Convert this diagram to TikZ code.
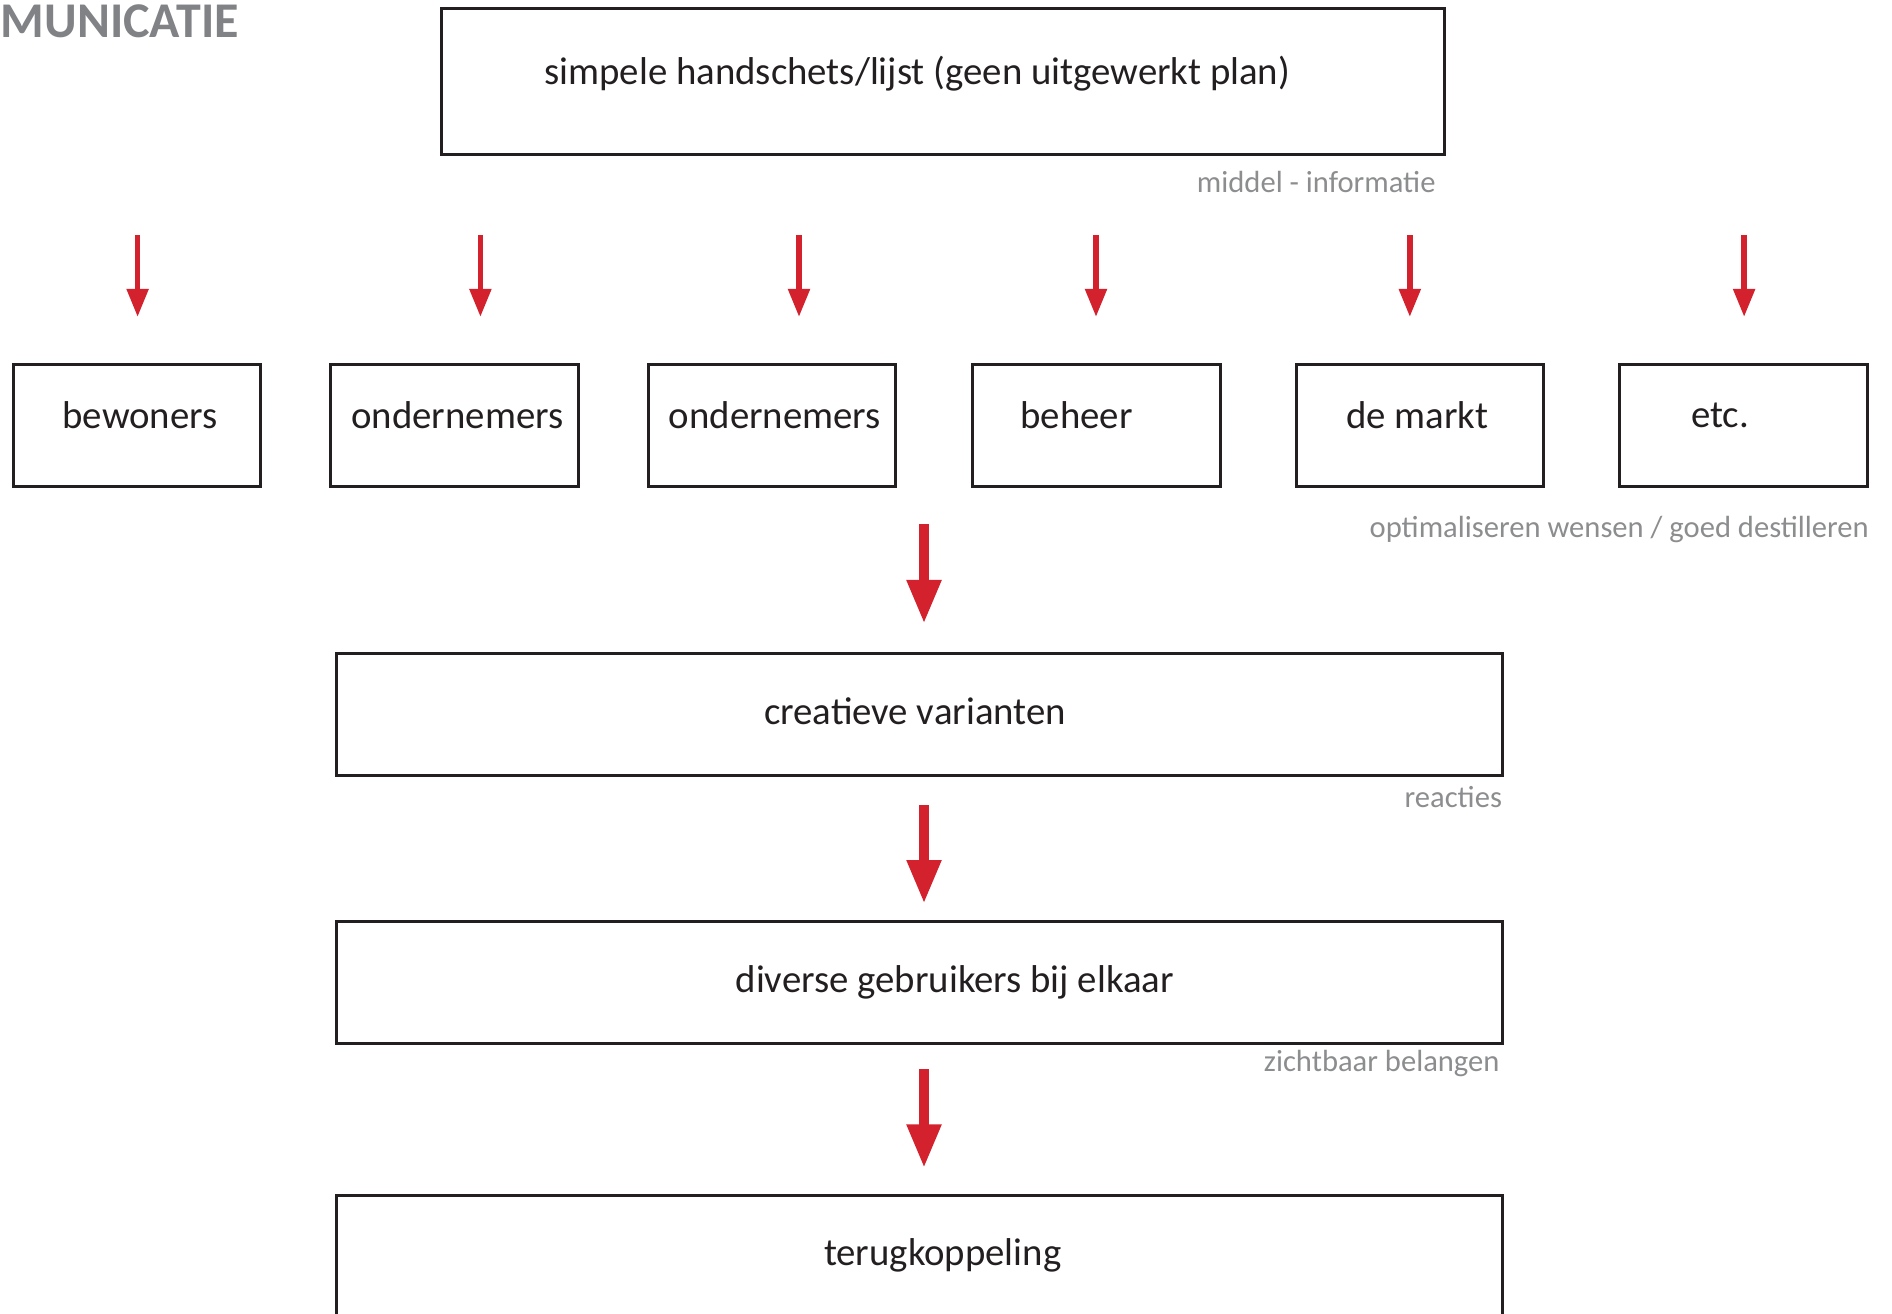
\documentclass[tikz,border=0pt]{standalone}
\usepackage{fontspec}
\setmainfont{Carlito}
\usetikzlibrary{arrows.meta}

\definecolor{arrowred}{RGB}{211,34,45}
\definecolor{notegray}{RGB}{140,141,143}
\definecolor{titlegray}{RGB}{128,130,133}
\definecolor{boxline}{RGB}{35,31,32}

\begin{document}
\begin{tikzpicture}[x = 0.25pt, y = -0.25pt,
    box/.style = {draw = boxline, line width = 0.75pt, inner sep = 0pt, minimum width = 61.85pt, minimum height = 30.5pt},
    widebox/.style = {box, minimum width = 291.5pt},
    boxtext/.style = {font = \fontsize{9.7}{11}\selectfont, text = boxline, inner sep = 0pt},
    note/.style = {font = \fontsize{7.65}{9}\selectfont, text = notegray, inner sep = 0pt, anchor = east},
    smallarrow/.style = {draw = arrowred, line width = 1.4pt, -{Triangle[length = 7pt, width = 5.2pt]}},
    bigarrow/.style = {draw = arrowred, line width = 2.67pt, -{Triangle[length = 11pt, width = 8pt]}}]
    \useasboundingbox (0,0) rectangle (1892,1314);

    % titel
    \node [anchor = west, inner sep = 0pt, font = \fontsize{12.5}{14}\selectfont\bfseries, text = titlegray] (titel) at (0,21) {MUNICATIE};

    % bovenste blok
    \node [box, minimum width = 250.75pt, minimum height = 36.5pt] (plan) at (943.3,81.5) {};
    \node [boxtext] (plantekst) at (917.3,73.5) {simpele handschets/lijst (geen uitgewerkt plan)};
    \node [note] (middel) at (1436.3,182.3) {middel - informatie};

    % rij met doelgroepen
    \foreach \bx/\tx/\ax/\naam/\tekst in {137/140/137.6/bew/bewoners, 454.4/457.5/480.4/ondA/ondernemers,
        771.9/774.9/799/ondB/ondernemers, 1096.5/1076.6/1096/beh/beheer, 1420/1417/1409.8/markt/de markt,
        1743.5/1720/1744.1/etc/etc.}
    {
        \node [box] (\naam) at (\bx,425.5) {};
        \node [boxtext] (\naam-tekst) at (\tx,415.2) {\tekst};
        \coordinate (\naam-a) at (\ax,235);
        \coordinate (\naam-b) at (\ax,317);
        \draw [smallarrow] (\naam-a) -- (\naam-b);
    }
    \node [note] (wensen) at (1869.6,529.5) {optimaliseren wensen / goed destilleren};

    % onderste blokken
    \coordinate (pijl1a) at (924,524);
    \coordinate (pijl1b) at (924,624);
    \draw [bigarrow] (pijl1a) -- (pijl1b);
    \node [widebox] (creatief) at (919.7,714) {};
    \node [boxtext] (creatief-tekst) at (914.9,711) {creatieve varianten};
    \node [note] (reacties) at (1502.7,796.6) {reacties};

    \coordinate (pijl2a) at (924,805);
    \coordinate (pijl2b) at (924,904);
    \draw [bigarrow] (pijl2a) -- (pijl2b);
    \node [widebox] (divers) at (919.7,982) {};
    \node [boxtext] (divers-tekst) at (954.7,982.5) {diverse gebruikers bij elkaar};
    \node [note] (belangen) at (1500.3,1063.4) {zichtbaar belangen};

    \coordinate (pijl3a) at (924,1069.4);
    \coordinate (pijl3b) at (924,1168.4);
    \draw [bigarrow] (pijl3a) -- (pijl3b);
    \node [widebox] (terug) at (919.7,1256) {};
    \node [boxtext] (terug-tekst) at (942.7,1255.5) {terugkoppeling};
\end{tikzpicture}
\end{document}
